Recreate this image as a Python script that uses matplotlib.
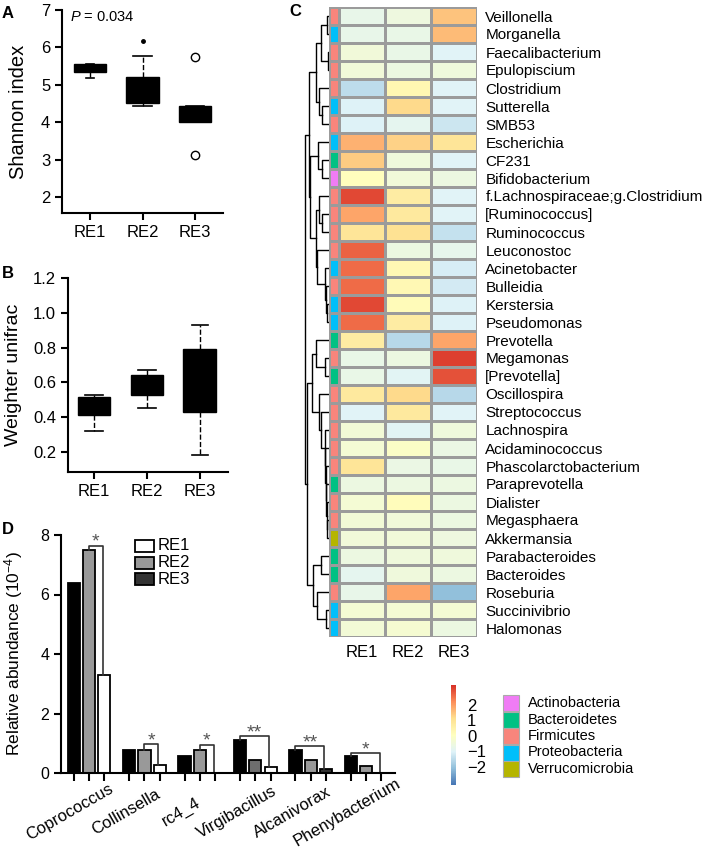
import matplotlib
matplotlib.use('Agg')
import matplotlib.pyplot as plt
import matplotlib.transforms as mtrans
import numpy as np
from matplotlib.colors import LinearSegmentedColormap, ListedColormap, Normalize
from matplotlib.patches import Rectangle
from matplotlib.cm import ScalarMappable

plt.rcParams['font.family'] = ['Liberation Sans', 'DejaVu Sans']
plt.rcParams['mathtext.fontset'] = 'custom'
plt.rcParams['mathtext.rm'] = 'Liberation Sans'
plt.rcParams['mathtext.it'] = 'Liberation Sans:italic'

# ---------------- data ----------------
groups = ['RE1', 'RE2', 'RE3']

# A: Shannon index boxes
shannon_q1 = [5.35, 4.50, 4.00]
shannon_q3 = [5.55, 5.20, 4.43]
shannon_med = [5.45, 4.85, 4.20]
shannon_lo = [5.18, 4.43, 4.00]
shannon_hi = [5.55, 5.78, 4.43]
shannon_fliers = [[], [6.18], [5.73, 3.13]]

# B: weighted unifrac boxes
unifrac_q1 = [0.41, 0.53, 0.43]
unifrac_q3 = [0.515, 0.645, 0.79]
unifrac_med = [0.46, 0.60, 0.60]
unifrac_lo = [0.32, 0.45, 0.18]
unifrac_hi = [0.525, 0.67, 0.93]

# C: heatmap
genera = ['Veillonella', 'Morganella', 'Faecalibacterium', 'Epulopiscium', 'Clostridium',
          'Sutterella', 'SMB53', 'Escherichia', 'CF231', 'Bifidobacterium',
          'f.Lachnospiraceae;g.Clostridium', '[Ruminococcus]', 'Ruminococcus', 'Leuconostoc',
          'Acinetobacter', 'Bulleidia', 'Kerstersia', 'Pseudomonas', 'Prevotella', 'Megamonas',
          '[Prevotella]', 'Oscillospira', 'Streptococcus', 'Lachnospira', 'Acidaminococcus',
          'Phascolarctobacterium', 'Paraprevotella', 'Dialister', 'Megasphaera', 'Akkermansia',
          'Parabacteroides', 'Bacteroides', 'Roseburia', 'Succinivibrio', 'Halomonas']
heat_re1 = [-0.75, -0.75, -0.45, -0.45, -1.5, -1.05, -1.05, 1.75, 1.4, 0.1,
            3.0, 1.9, 0.95, 2.7, 2.6, 2.6, 3.0, 2.6, 0.7, -0.7,
            -0.7, 0.8, -1.0, -0.4, -0.35, 0.95, -0.6, -0.35, -0.4, -0.45,
            -0.6, -0.85, -0.75, -0.35, -0.4]
heat_re2 = [-0.55, -0.7, -0.7, -0.6, 0.35, 1.2, -0.85, 1.3, -0.5, -0.45,
            0.7, 0.8, 1.05, -0.6, 0.3, 0.3, 0.2, 0.7, -1.6, -0.6,
            -0.95, 1.2, 0.8, -0.95, -0.1, -0.65, -0.6, 0.15, -0.45, -0.45,
            -0.5, -0.5, 1.9, -0.35, -0.3]
heat_re3 = [1.5, 1.6, -1.0, -0.5, -1.0, -1.0, -1.3, 0.95, -1.0, -0.6,
            -1.0, -1.0, -1.4, -0.8, -1.15, -1.2, -1.05, -1.05, 1.9, 3.1,
            2.9, -1.6, -1.0, -0.5, -0.65, -0.7, -0.6, -0.6, -0.6, -0.55,
            -0.5, -0.6, -2.1, -0.35, -0.6]
phyla = ['Actinobacteria', 'Bacteroidetes', 'Firmicutes', 'Proteobacteria', 'Verrucomicrobia']
phylum_colors = ['#F07CF5', '#00C183', '#F8857C', '#00BFFA', '#B5B500']
row_phylum = [2, 3, 2, 2, 2, 3, 2, 3, 1, 0,
              2, 2, 2, 2, 3, 2, 3, 3, 1, 2,
              1, 2, 2, 2, 2, 2, 1, 2, 2, 4,
              1, 1, 2, 3, 3]
# row dendrogram: (height, left, right), leaves are row indices
row_tree = (24,
            (20,
             (13, (8, (2, 0, 1), (1.5, 2, 3)), (10, 4, (7, 5, 6))),
             (19, (11, 7, (7, 8, 9)),
              (13, (10, 10, (7, 11, 12)),
               (12, 13, (4, 14, (3, 15, (2, 16, 17))))))),
            (22,
             (17, (13, 18, (4, 19, 20)),
              (10, 21, (8, 22, (4.5, 23, (4, 24, (3.5, 25, (3, 26, (2.5, 27, (2, 28, 29))))))))),
             (16, (8, 30, 31), (12, 32, (3, 33, 34)))))

# D: relative abundance bars
taxa = ['Coprococcus', 'Collinsella', 'rc4_4', 'Virgibacillus', 'Alcanivorax', 'Phenybacterium']
abund_bar1 = [6.4, 0.78, 0.56, 1.12, 0.78, 0.56]
abund_bar2 = [7.5, 0.78, 0.78, 0.44, 0.44, 0.24]
abund_bar3 = [3.3, 0.26, 0.0, 0.20, 0.13, 0.0]
sig_from = [1, 1, 1, 0, 0, 0]
sig_height = [7.63, 0.97, 0.94, 1.24, 0.90, 0.67]
sig_label = ['*', '*', '*', '**', '**', '*']
legend_names = ['RE1', 'RE2', 'RE3']
legend_colors = ['white', '#999999', '#333333']

# ---------------- figure ----------------
W, H = 709, 865
fig = plt.figure(figsize=(W / 100, H / 100), dpi=100)


def px_axes(x0, y0, x1, y1):
    ax = fig.add_axes([x0 / W, 1 - y1 / H, (x1 - x0) / W, (y1 - y0) / H])
    ax.patch.set_visible(False)
    return ax


def style_axes(ax):
    for s in ['top', 'right']:
        ax.spines[s].set_visible(False)
    for s in ['left', 'bottom']:
        ax.spines[s].set_linewidth(1.5)
    ax.tick_params(width=1.5, length=5, labelsize=12)


def boxes(ax, q1, q3, med, lo, hi, capw):
    stats = [dict(q1=a, q3=b, med=m, whislo=l, whishi=h, fliers=[])
             for a, b, m, l, h in zip(q1, q3, med, lo, hi)]
    ax.bxp(stats, positions=[1, 2, 3], widths=0.62, capwidths=capw, patch_artist=True,
           showfliers=False,
           boxprops=dict(facecolor='black', edgecolor='black', lw=1),
           whiskerprops=dict(color='black', ls='--', lw=1),
           capprops=dict(color='black', lw=1.2),
           medianprops=dict(color='black', lw=1))
    ax.set_xticks([1, 2, 3])
    ax.set_xticklabels(groups, fontsize=11.5)


# A
axA = px_axes(62, 10, 223, 213)
boxes(axA, shannon_q1, shannon_q3, shannon_med, shannon_lo, shannon_hi, [0.15, 0.35, 0.35])
for i, fl in enumerate(shannon_fliers):
    if i == 1:
        axA.plot([i + 1] * len(fl), fl, 'o', ms=2.5, color='black')
    else:
        axA.plot([i + 1] * len(fl), fl, 'o', ms=6, mfc='white', mec='black', mew=1)
axA.set_xlim(0.47, 3.53)
axA.set_ylim(1.57, 7)
axA.set_yticks(range(2, 8))
style_axes(axA)
axA.set_ylabel('Shannon index', fontsize=14.5)
axA.yaxis.set_label_coords(-0.21, 0.5)
axA.text(0.62, 6.81, r'$P$ = 0.034', fontsize=10.5, va='center', ha='left')

# B
axB = px_axes(68, 278, 228, 472)
boxes(axB, unifrac_q1, unifrac_q3, unifrac_med, unifrac_lo, unifrac_hi, [0.35, 0.35, 0.3])
axB.set_xlim(0.51, 3.53)
axB.set_ylim(0.085, 1.2)
axB.set_yticks([0.2, 0.4, 0.6, 0.8, 1.0, 1.2])
axB.set_yticklabels(['%.1f' % v for v in [0.2, 0.4, 0.6, 0.8, 1.0, 1.2]])
style_axes(axB)
axB.set_ylabel('Weighter unifrac', fontsize=14)
axB.yaxis.set_label_coords(-0.29, 0.5)

# C heatmap
cmap = LinearSegmentedColormap.from_list(
    'rdylbu', ['#4575B4', '#91BFDB', '#E0F3F8', '#FFFFBF', '#FEE090', '#FC8D59', '#D73027'])
norm = Normalize(vmin=-3.2, vmax=3.3)
heat = np.array([heat_re1, heat_re2, heat_re3]).T
n = len(genera)

axH = px_axes(339, 7, 477, 637)
axH.pcolormesh(heat, cmap=cmap, norm=norm, edgecolors='#9b9b9b', linewidth=1)
axH.set_xlim(0, 3)
axH.set_ylim(n, 0)
axH.yaxis.tick_right()
axH.set_yticks(np.arange(n) + 0.5)
axH.set_yticklabels(genera, fontsize=11)
axH.set_xticks(np.arange(3) + 0.5)
axH.set_xticklabels(groups, fontsize=12)
axH.tick_params(length=0, pad=6)
for s in axH.spines.values():
    s.set_visible(False)

axP = px_axes(329, 7, 339, 637)
axP.pcolormesh(np.array(row_phylum).reshape(-1, 1), cmap=ListedColormap(phylum_colors),
               vmin=-0.5, vmax=4.5, edgecolors='#9b9b9b', linewidth=1)
axP.set_ylim(n, 0)
axP.axis('off')

axT = px_axes(300, 7, 329, 637)


def draw_tree(ax, node):
    if isinstance(node, int):
        return node + 0.5, 0.0
    h, a, b = node
    ya, ha = draw_tree(ax, a)
    yb, hb = draw_tree(ax, b)
    ax.plot([ha, h, h, hb], [ya, ya, yb, yb], color='black', lw=1)
    return (ya + yb) / 2, h


draw_tree(axT, row_tree)
axT.set_xlim(29, 0)
axT.set_ylim(n, 0)
axT.axis('off')

cax = px_axes(451, 685, 456, 785)
cb = fig.colorbar(ScalarMappable(norm=norm, cmap=cmap), cax=cax, ticks=[-2, -1, 0, 1, 2])
cb.outline.set_visible(False)
cax.tick_params(length=0, pad=8, labelsize=12)

# D bars
axD = px_axes(61, 535, 395, 773)
x = np.arange(len(taxa))
offs = [-0.276, 0.0, 0.276]
bar_series = [abund_bar1, abund_bar2, abund_bar3]
bar_colors = [['black'] * 6, ['#999999'] * 6, ['white'] * 6]
bar_colors[1][3] = '#6e6e6e'
bar_colors[2][4] = '#333333'
for k in range(3):
    axD.bar(x + offs[k], bar_series[k], width=0.22, color=bar_colors[k],
            edgecolor='black', linewidth=1.3)
for i in range(len(taxa)):
    xs = x[i] + offs[sig_from[i]]
    xe = x[i] + offs[2] - 0.03
    y0 = bar_series[sig_from[i]][i]
    y1 = bar_series[2][i]
    hgt = sig_height[i]
    axD.plot([xs, xs, xe, xe], [y0, hgt, hgt, y1], color='#333333', lw=1.2)
    axD.text((xs + xe) / 2, hgt + 0.12, sig_label[i], ha='center', va='center',
             fontsize=14, color='#555555')
axD.set_xlim(-0.505, 5.52)
axD.set_ylim(0, 8)
axD.set_yticks([0, 2, 4, 6, 8])
axD.set_xticks(np.concatenate([x + o for o in offs]))
axD.set_xticklabels([])
style_axes(axD)
axD.tick_params(axis='y', labelsize=11.5)
axD.tick_params(axis='x', length=6)
trD = mtrans.blended_transform_factory(axD.transData, axD.transAxes)
for i, t in enumerate(taxa):
    axD.text(x[i] - 0.34, -0.164, t, transform=trD, rotation=30, ha='center', va='center',
             fontsize=12)
axD.set_ylabel(r'Relative abundance (10$^{-4}$)', fontsize=12.5)
axD.yaxis.set_label_coords(-0.108, 0.5)

# overlay for panel letters and legends
ov = fig.add_axes([0, 0, 1, 1])
ov.set_xlim(0, W)
ov.set_ylim(H, 0)
ov.axis('off')
for lab, (lx, ly) in zip('ABCD', [(2, 13), (2, 273), (289, 12), (2, 529)]):
    ov.text(lx, ly, lab, fontsize=12, fontweight='bold', va='center', ha='left')

for k, (nm, c) in enumerate(zip(legend_names, legend_colors)):
    yc = 546 + 16.5 * k
    ov.add_patch(Rectangle((135, yc - 6), 19, 12, facecolor=c, edgecolor='black', lw=1.3))
    ov.text(158, yc, nm, fontsize=12, va='center', ha='left')

for k, (nm, c) in enumerate(zip(phyla, phylum_colors)):
    yc = 703 + 16.5 * k
    ov.add_patch(Rectangle((503, yc - 8), 16, 16, facecolor=c, edgecolor='#aaaaaa', lw=0.8))
    ov.text(528, yc, nm, fontsize=10.5, va='center', ha='left')

fig.savefig('out.png', dpi=100)
